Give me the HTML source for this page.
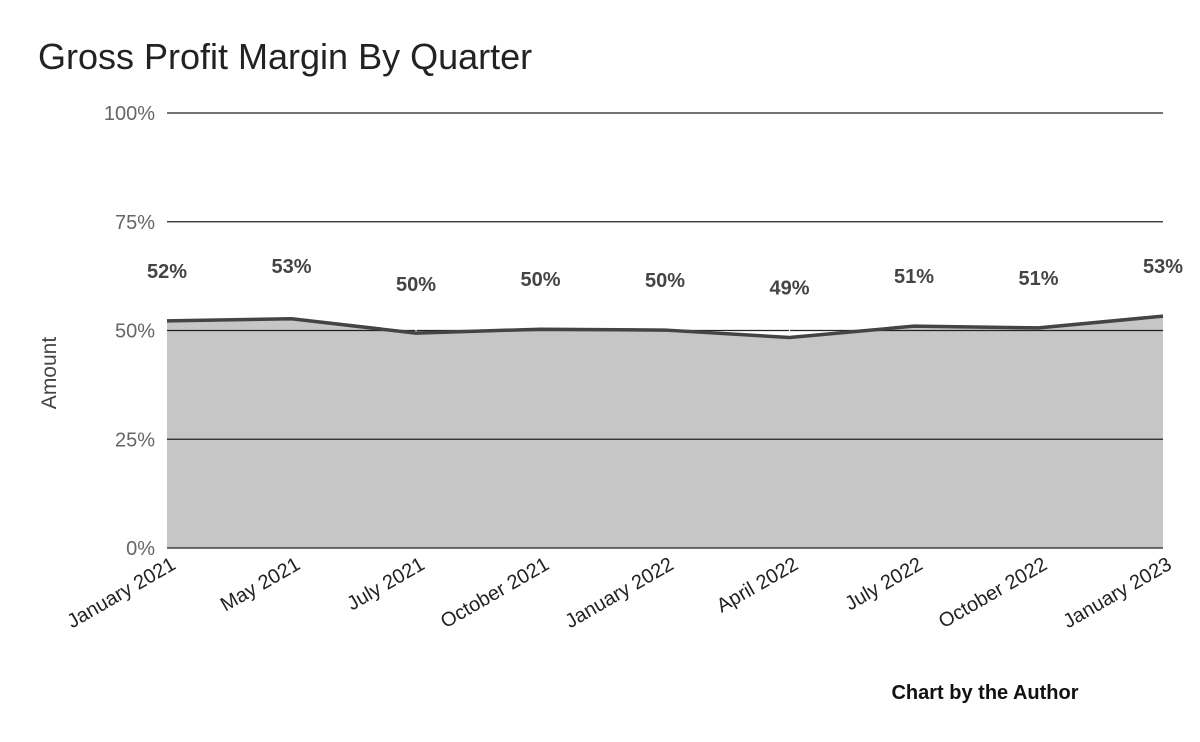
<!DOCTYPE html>
<html><head><meta charset="utf-8"><style>
body{margin:0;background:#fff;font-family:"Liberation Sans",Arial,sans-serif}
svg{display:block}
</style></head><body>
<svg width="1200" height="742">
<text x="38" y="69" font-size="36" fill="#222">Gross Profit Margin By Quarter</text>
<text transform="translate(56,373) rotate(-90)" text-anchor="middle" font-size="21" fill="#444">Amount</text>
<text x="985" y="699" text-anchor="middle" font-size="20" font-weight="bold" fill="#111">Chart by the Author</text>
<g id="plot"></g>
</svg>
<script>
const categories=["January 2021","May 2021","July 2021","October 2021","January 2022","April 2022","July 2022","October 2022","January 2023"];
const values=[52.2,52.7,49.4,50.3,50.1,48.4,51.0,50.6,53.3];
const valueLabels=["52%","53%","50%","50%","50%","49%","51%","51%","53%"];
const yTicks=[0,25,50,75,100];
const yTickLabels=["0%","25%","50%","75%","100%"];
const labelOffsets=[43,46,42,43,43,43,43,43,43];
const X0=167,X1=1163,Y0=548,Y1=113;
const x=i=>X0+(X1-X0)*i/(categories.length-1);
const y=v=>Y0-(Y0-Y1)*v/100;
const NS="http://www.w3.org/2000/svg";
const g=document.getElementById('plot');
function mk(t,a){const e=document.createElementNS(NS,t);for(const k in a)e.setAttribute(k,a[k]);g.appendChild(e);return e;}
// area
let d=`M${x(0)},${Y0}`;values.forEach((v,i)=>d+=` L${x(i)},${y(v)}`);d+=` L${x(values.length-1)},${Y0} Z`;
const area=mk('path',{d,fill:'#c6c6c6'});


// grid + y ticks
yTicks.forEach((t,i)=>{
 const l=mk('line',{x1:X0,x2:X1,y1:y(t),y2:y(t),stroke:'#222','stroke-width':1.3});
 
 
 const tx=mk('text',{x:155,y:y(t)+7,'text-anchor':'end','font-size':20,fill:'#666'});
 tx.textContent=yTickLabels[i];
 
 
});
// leader lines
values.forEach((v,i)=>{
 const l=mk('line',{x1:x(i),x2:x(i),y1:y(v)-labelOffsets[i]+8,y2:y(v),stroke:'#fff','stroke-width':1.2});
 
 
});
// line
let pd='';values.forEach((v,i)=>pd+=(i?' L':'M')+x(i)+','+y(v));
const line=mk('path',{d:pd,fill:'none',stroke:'#444','stroke-width':3.5,'stroke-linejoin':'round'});


// labels
values.forEach((v,i)=>{
 const t=mk('text',{x:x(i),y:y(v)-labelOffsets[i],'text-anchor':'middle','font-size':20,'font-weight':'bold',fill:'#444'});
 t.textContent=valueLabels[i];
 
 
});
categories.forEach((c,i)=>{
 const t=mk('text',{transform:`translate(${x(i)+10},${568}) rotate(-30)`,'text-anchor':'end','font-size':20,fill:'#222'});
 t.textContent=c;
 
 
});
</script>
</body></html>
